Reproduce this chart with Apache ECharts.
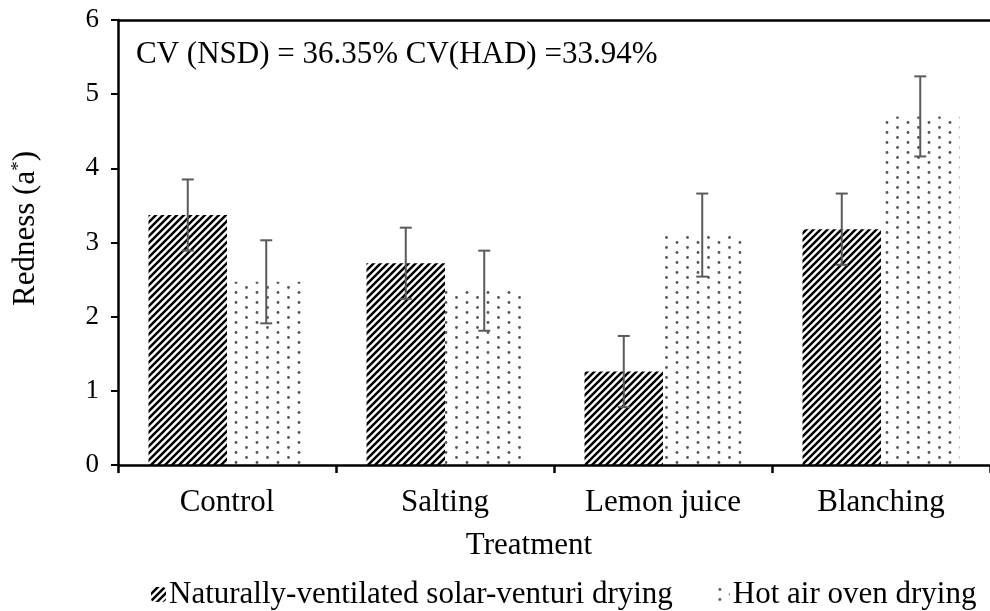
<!DOCTYPE html>
<html>
<head>
<meta charset="utf-8">
<script src="https://cdn.jsdelivr.net/npm/echarts@6/dist/echarts.min.js"></script>
<style>
  html, body { margin: 0; padding: 0; background: #fff; }
  #chart { width: 990px; height: 611px; }
</style>
</head>
<body>
<div id="chart"></div>
<script>
const categories = ['Control', 'Salting', 'Lemon juice', 'Blanching']
const nsdValues = [3.37, 2.72, 1.26, 3.18]
const nsdErr    = [0.48, 0.48, 0.48, 0.48]
const hadValues = [2.47, 2.35, 3.10, 4.70]
const hadErr    = [0.56, 0.54, 0.56, 0.54]
const seriesNames = ['Naturally-ventilated solar-venturi drying', 'Hot air oven drying']
const cvText = 'CV (NSD) = 36.35% CV(HAD) =33.94%'

const FONT = "'Liberation Serif', 'Times New Roman', serif"

// black/white diagonal stripes
function stripePattern() {
  const s = 7
  const c = document.createElement('canvas')
  c.width = s; c.height = s
  const g = c.getContext('2d')
  g.fillStyle = '#fff'
  g.fillRect(0, 0, s, s)
  g.strokeStyle = '#000'
  g.lineWidth = 2.5
  g.beginPath()
  g.moveTo(-1, s + 1); g.lineTo(s + 1, -1)
  g.moveTo(-1, 1); g.lineTo(1, -1)
  g.moveTo(s - 1, s + 1); g.lineTo(s + 1, s - 1)
  g.stroke()
  return { image: c, repeat: 'repeat' }
}

// sparse grey dots
function dotPattern() {
  const c = document.createElement('canvas')
  c.width = 21; c.height = 10
  const g = c.getContext('2d')
  g.fillStyle = '#fff'
  g.fillRect(0, 0, 21, 10)
  g.fillStyle = '#555'
  ;[[5, 2.5], [15.5, 7.5]].forEach(([x, y]) => {
    g.beginPath(); g.arc(x, y, 1.4, 0, Math.PI * 2); g.fill()
  })
  return { image: c, repeat: 'repeat' }
}

function errorSeries(values, errs, side) {
  return {
    type: 'custom',
    silent: true,
    z: 10,
    data: values.map((v, i) => [i, v - errs[i], v + errs[i]]),
    renderItem(params, api) {
      const band = api.size([1, 0])[0]
      const off = side * band * 0.72 / 4
      const lo = api.coord([api.value(0), api.value(1)])
      const hi = api.coord([api.value(0), api.value(2)])
      const x = lo[0] + off
      const style = { stroke: '#5a5a5a', lineWidth: 2 }
      return {
        type: 'group',
        children: [
          { type: 'line', shape: { x1: x, y1: lo[1], x2: x, y2: hi[1] }, style },
          { type: 'line', shape: { x1: x - 6, y1: hi[1], x2: x + 6, y2: hi[1] }, style },
          { type: 'line', shape: { x1: x - 6, y1: lo[1], x2: x + 6, y2: lo[1] }, style },
        ],
      }
    },
  }
}

const chart = echarts.init(document.getElementById('chart'))
chart.setOption({
  animation: false,
  textStyle: { fontFamily: FONT, color: '#000' },
  title: {
    text: cvText,
    left: 131, top: 34,
    textStyle: { fontFamily: FONT, fontSize: 31, fontWeight: 'normal', color: '#000' },
  },
  legend: {
    top: 574,
    left: 146,
    itemWidth: 15, itemHeight: 15, itemGap: 42,
    data: seriesNames,
    textStyle: { fontFamily: FONT, fontSize: 31, color: '#000', padding: [0, 0, 0, -2] },
  },
  grid: { left: 118, right: -8, top: 20, bottom: 146 },
  xAxis: [
    {
      type: 'category',
      data: categories,
      z: 5,
      name: 'Treatment',
      nameLocation: 'middle',
      nameGap: 65,
      nameTextStyle: { fontFamily: FONT, fontSize: 31, color: '#000', padding: [0, 50, 0, 0] },
      axisLine: { lineStyle: { color: '#000', width: 2.5 } },
      axisTick: { show: true, interval: 0, length: 8, lineStyle: { color: '#000', width: 2.5 } },
      axisLabel: { fontFamily: FONT, fontSize: 31, color: '#000', margin: 22 },
    },
    {
      type: 'value', position: 'top', min: 0, max: 1, z: 5,
      axisLine: { show: true, lineStyle: { color: '#000', width: 2.5 } },
      axisTick: { show: false }, axisLabel: { show: false }, splitLine: { show: false },
    },
  ],
  yAxis: {
    type: 'value',
    min: 0, max: 6, interval: 1,
    z: 5,
    name: '{n|Redness (a}{s|*}{n|)}',
    nameLocation: 'middle',
    nameGap: 77,
    nameTextStyle: {
      padding: [0, 0, 0, 28],
      rich: {
        n: { fontFamily: FONT, fontSize: 31, color: '#000' },
        s: { fontFamily: FONT, fontSize: 19, color: '#000', verticalAlign: 'top', padding: [0, 0, 12, 0] },
      },
    },
    axisLine: { show: true, lineStyle: { color: '#000', width: 2.5 } },
    axisTick: { show: true, length: 7, lineStyle: { color: '#000', width: 2 } },
    axisLabel: { fontFamily: FONT, fontSize: 27, color: '#000', margin: 19 },
    splitLine: { show: false },
  },
  series: [
    {
      name: seriesNames[0], type: 'bar', data: nsdValues,
      barGap: '0%', barCategoryGap: '28%',
      itemStyle: { color: stripePattern() },
    },
    {
      name: seriesNames[1], type: 'bar', data: hadValues,
      barGap: '0%', barCategoryGap: '28%',
      itemStyle: { color: dotPattern() },
    },
    errorSeries(nsdValues, nsdErr, -1),
    errorSeries(hadValues, hadErr, 1),
  ],
})
</script>
</body>
</html>
